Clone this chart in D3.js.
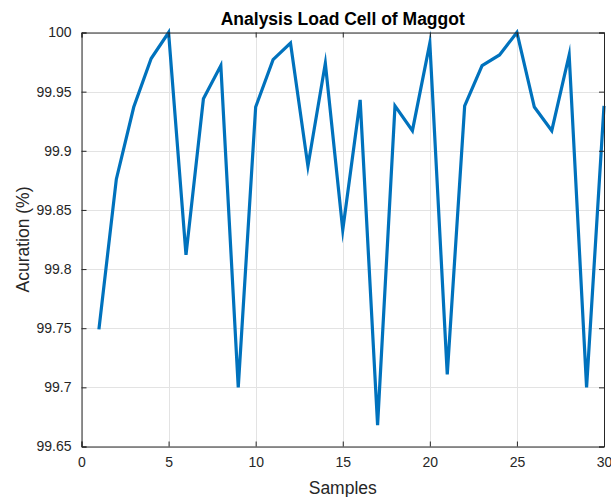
<!DOCTYPE html>
<html><head><meta charset="utf-8">
<script src="https://cdn.jsdelivr.net/npm/d3@7"></script>
<style>
body{margin:0;background:#fff;}
text{font-family:"Liberation Sans",Arial,Helvetica,sans-serif;}
</style></head>
<body><svg id="c" width="611" height="497"></svg>
<script>
const samples = d3.range(1, 31);
const accuracy = [99.749, 99.876, 99.937, 99.978, 100.0, 99.812, 99.944, 99.972, 99.700, 99.937,
                  99.977, 99.991, 99.887, 99.974, 99.833, 99.943, 99.668, 99.938, 99.917, 99.991,
                  99.711, 99.938, 99.972, 99.981, 100.0, 99.937, 99.917, 99.981, 99.700, 99.938];
const xTicks = [0, 5, 10, 15, 20, 25, 30];
const yTicks = [99.65, 99.7, 99.75, 99.8, 99.85, 99.9, 99.95, 100];
const yTickLabels = ["99.65", "99.7", "99.75", "99.8", "99.85", "99.9", "99.95", "100"];

const L = 81.5, R = 604, T = 32.5, B = 446.5;
const svg = d3.select("#c");
const x = d3.scaleLinear().domain([0, 30]).range([L, R]);
const y = d3.scaleLinear().domain([99.65, 100]).range([B, T]);

// grid
const g = svg.append("g");
g.selectAll(".gx").data(xTicks).enter().append("line")
  .attr("x1", d => Math.round(x(d)) + 0.5).attr("x2", d => Math.round(x(d)) + 0.5)
  .attr("y1", T).attr("y2", B).attr("stroke", "#e3e3e3").attr("stroke-width", 1);
g.selectAll(".gy").data(yTicks).enter().append("line")
  .attr("y1", d => Math.round(y(d)) + 0.5).attr("y2", d => Math.round(y(d)) + 0.5)
  .attr("x1", L).attr("x2", R).attr("stroke", "#e3e3e3").attr("stroke-width", 1);

// line
const line = d3.line().x((d, i) => x(samples[i])).y(d => y(d));
svg.append("path").datum(accuracy).attr("d", line)
  .attr("fill", "none").attr("stroke", "#0072BD").attr("stroke-width", 3.2)
  .attr("stroke-linejoin", "miter").attr("stroke-miterlimit", 10);

// axes
const axCol = "#262626";
const xAxis = d3.axisBottom(x).tickValues(xTicks).tickSize(-5).tickPadding(11).tickFormat(d3.format("d"));
const xAxisTop = d3.axisTop(x).tickValues(xTicks).tickSize(-5).tickFormat("");
const yAxis = d3.axisLeft(y).tickValues(yTicks).tickSize(-5).tickPadding(10).tickFormat((d, i) => yTickLabels[i]);
const yAxisRight = d3.axisRight(y).tickValues(yTicks).tickSize(-5).tickFormat("");

function style(sel) {
  sel.select(".domain").attr("stroke", axCol);
  sel.selectAll(".tick line").attr("stroke", axCol);
  sel.selectAll(".tick text").attr("fill", axCol).style("font-size", "14px")
     .style("font-family", "'Liberation Sans', Arial, sans-serif");
}
svg.append("g").attr("transform", `translate(0,${B})`).call(xAxis).call(style);
svg.append("g").attr("transform", `translate(0,${T})`).call(xAxisTop).call(style);
svg.append("g").attr("transform", `translate(${L},0)`).call(yAxis).call(style);
svg.append("g").attr("transform", `translate(${R},0)`).call(yAxisRight).call(style);

// title & labels
svg.append("text").attr("x", (L + R) / 2).attr("y", 25).attr("text-anchor", "middle")
  .style("font-size", "17.5px").style("font-weight", "bold").attr("fill", "#000")
  .text("Analysis Load Cell of Maggot");
svg.append("text").attr("x", (L + R) / 2).attr("y", 494).attr("text-anchor", "middle")
  .style("font-size", "17.5px").attr("fill", axCol).text("Samples");
svg.append("text").attr("transform", `translate(29,${(T + B) / 2}) rotate(-90)`)
  .attr("text-anchor", "middle").style("font-size", "17.5px").attr("fill", axCol)
  .text("Acuration (%)");
</script></body></html>
